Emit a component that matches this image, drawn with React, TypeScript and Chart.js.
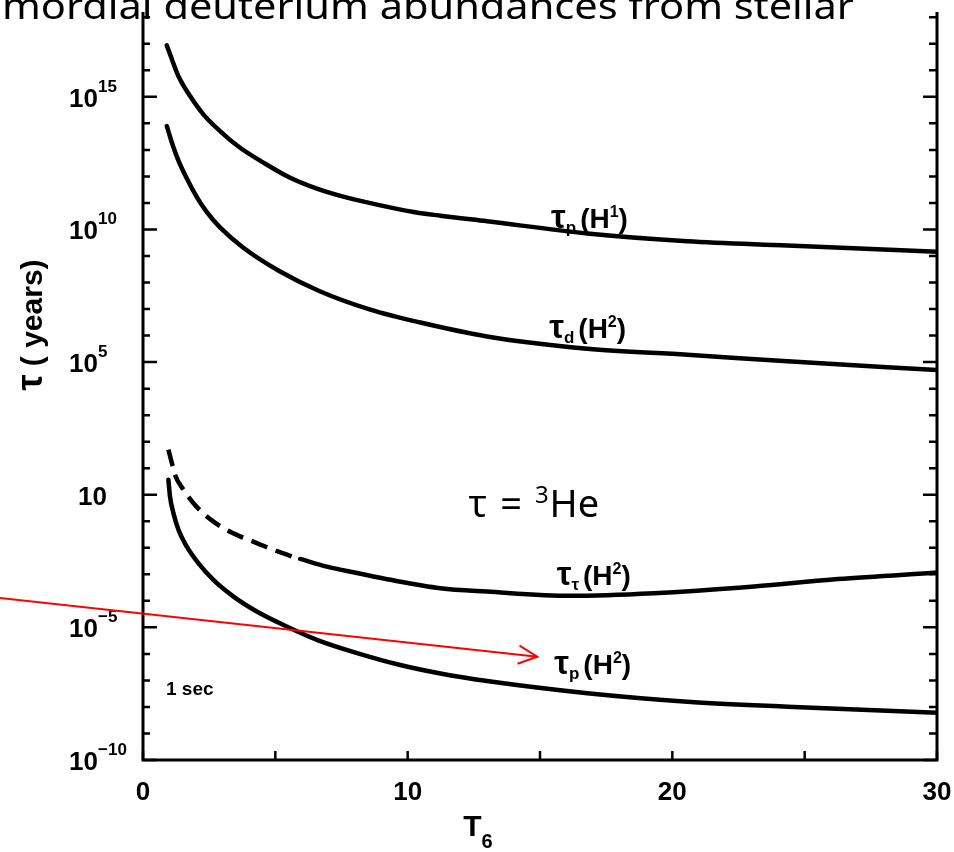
import React, { useEffect, useRef } from "react";
import { Chart, registerables } from "chart.js";

Chart.register(...registerables);

const W = 954;
const H = 852;

// ---- data (T6 in units of 10^6 K, tau in years) ----
const tpH1X = [0.9, 1.09, 1.34, 1.78, 2.28, 2.91, 3.67, 4.55, 5.56, 6.57, 7.71, 8.97, 10.23, 11.24, 13.0, 16.79, 20.57, 24.35, 30];
const tpH1Y = [8.7e16, 2.63e16, 6.0e15, 1.07e15, 2.19e14, 5.13e13, 1.2e13, 3.31e12, 8.9e11, 3.47e11, 1.58e11, 8.1e10, 4.57e10, 3.31e10, 2.04e10, 7.1e9, 3.6e9, 2.5e9, 1.45e9];

const tdH2X = [0.9, 1.09, 1.32, 1.67, 2.04, 2.42, 2.91, 3.78, 5.18, 6.7, 8.59, 10.48, 13.0, 16.79, 20.57, 24.35, 30];
const tdH2Y = [7.9e13, 1.9e13, 4.4e12, 7.8e11, 1.62e11, 4.4e10, 1.2e10, 2.1e9, 2.6e8, 4.6e7, 9.5e6, 3.1e6, 9.3e5, 3.2e5, 1.9e5, 1.07e5, 5.0e4];

const tTH2DashX = [0.96, 1.09, 1.21, 1.53, 1.9, 2.41, 3.04, 3.67, 4.3, 4.93, 5.56, 5.94];
const tTH2DashY = [50, 15.8, 5.6, 1.55, 0.49, 0.151, 0.055, 0.0269, 0.0151, 8.3e-3, 5.0e-3, 3.8e-3];
const tTH2X = [5.94, 6.95, 8.09, 9.35, 11.24, 13.0, 16.16, 19.31, 23.09, 26.25, 30];
const tTH2Y = [3.8e-3, 1.95e-3, 1.12e-3, 6.2e-4, 3.0e-4, 2.24e-4, 1.55e-4, 1.95e-4, 3.5e-4, 6.6e-4, 1.17e-3];

const tpH2X = [0.96, 1.02, 1.15, 1.34, 1.65, 2.09, 2.66, 3.42, 4.3, 5.31, 6.57, 8.09, 9.72, 11.24, 13.0, 16.79, 20.57, 24.35, 30];
const tpH2Y = [3.68, 0.863, 0.203, 0.0479, 0.0112, 2.63e-3, 6.17e-4, 1.45e-4, 3.98e-5, 1.23e-5, 3.39e-6, 1.07e-6, 3.8e-7, 1.82e-7, 9.5e-8, 3.3e-8, 1.58e-8, 1.02e-8, 6.0e-9];

// ---- axis ticks / labels ----
const xMin = 0;
const xMax = 30;
const yMin = 1e-10;
const yMax = 1.58e18;
const xMinorTicks = [0, 5, 10, 15, 20, 25, 30];
const xTickValues = [0, 10, 20, 30];
const xTickLabels = ["0", "10", "20", "30"];
const yDecadeExps = [-10, -9, -8, -7, -6, -5, -4, -3, -2, -1, 0, 1, 2, 3, 4, 5, 6, 7, 8, 9, 10, 11, 12, 13, 14, 15, 16, 17, 18];
const yTickValues = [1e-10, 1e-5, 1, 1e5, 1e10, 1e15];
const yTickBases = ["10", "10", "10", "10", "10", "10"];
const yTickExps = ["\u221210", "\u22125", "", "5", "10", "15"];

const slideTitle = "mordial deuterium abundances from stellar";

// annotation anchors in data units
const lblTpH1 = { x: 16.87, y: 2.8e10 };
const lblTdH2 = { x: 16.8, y: 2.0e6 };
const lblTtH2 = { x: 17.03, y: 9.5e-4 };
const lblTpH2 = { x: 16.99, y: 4.2e-7 };
const lblHe3 = { x: 12.3, y: 0.148 };
const lblSec = { x: 0.87, y: 5.2e-8 };
const arrowFrom = { x: -5.41, y: 1.29e-4 };
const arrowTo = { x: 14.9, y: 7.8e-7 };

const HAND = '"Liberation Sans", Arial, sans-serif';
const SLIDE = '"Noto Sans", "Open Sans", sans-serif';

type Seg = { t: string; size: number; dy?: number; gap?: number; weight?: string; family?: string };

function drawRich(ctx: CanvasRenderingContext2D, segs: Seg[], x: number, y: number, align: "left" | "center" | "right") {
  const widths = segs.map((s) => {
    ctx.font = `${s.weight ?? "bold"} ${s.size}px ${s.family ?? HAND}`;
    return ctx.measureText(s.t).width + (s.gap ?? 0);
  });
  const total = widths.reduce((a, b) => a + b, 0);
  let cx = align === "center" ? x - total / 2 : align === "right" ? x - total : x;
  ctx.textAlign = "left";
  ctx.textBaseline = "alphabetic";
  segs.forEach((s, i) => {
    ctx.font = `${s.weight ?? "bold"} ${s.size}px ${s.family ?? HAND}`;
    ctx.fillText(s.t, cx, y + (s.dy ?? 0));
    cx += widths[i];
  });
}

const decor = {
  id: "decor",
  afterDraw(chart: any) {
    const ctx: CanvasRenderingContext2D = chart.ctx;
    const xs = chart.scales.x;
    const ys = chart.scales.y;
    const { left, right, top, bottom } = chart.chartArea;
    const px = (v: number) => xs.getPixelForValue(v);
    const py = (v: number) => ys.getPixelForValue(v);
    ctx.save();
    ctx.fillStyle = "#000";
    ctx.strokeStyle = "#000";
    ctx.lineCap = "butt";

    // axes frame (left, bottom, right)
    ctx.lineWidth = 3;
    ctx.beginPath();
    ctx.moveTo(left, top);
    ctx.lineTo(left, bottom);
    ctx.lineTo(right, bottom);
    ctx.lineTo(right, top);
    ctx.stroke();

    // y ticks (inward)
    ctx.lineWidth = 2.5;
    yDecadeExps.forEach((e) => {
      const y = py(Math.pow(10, e));
      const major = e % 5 === 0;
      const lenL = major ? 14 : 7;
      const lenR = major ? 14 : 8;
      ctx.beginPath();
      ctx.moveTo(left, y);
      ctx.lineTo(left + lenL, y);
      ctx.moveTo(right, y);
      ctx.lineTo(right - lenR, y);
      ctx.stroke();
    });
    // x ticks (inward)
    xMinorTicks.forEach((v) => {
      const x = px(v);
      ctx.beginPath();
      ctx.moveTo(x, bottom);
      ctx.lineTo(x, bottom - 9);
      ctx.stroke();
    });

    // y tick labels
    yTickValues.forEach((v, i) => {
      const y = py(v);
      if (yTickExps[i] === "") {
        drawRich(ctx, [{ t: yTickBases[i], size: 26 }], 107, y + 10, "right");
      } else {
        drawRich(ctx, [{ t: yTickBases[i], size: 26 }], 98, y + 10, "right");
        drawRich(ctx, [{ t: yTickExps[i], size: 17 }], 98, y - 5, "left");
      }
    });
    // x tick labels
    xTickValues.forEach((v, i) => {
      drawRich(ctx, [{ t: xTickLabels[i], size: 26 }], px(v), 800, "center");
    });

    // axis titles
    drawRich(ctx, [{ t: "T", size: 30 }, { t: "6", size: 20, dy: 12 }], 478, 836, "center");
    ctx.save();
    ctx.translate(42, 325);
    ctx.rotate(-Math.PI / 2);
    drawRich(ctx, [{ t: "\u03c4", size: 36 }, { t: " ( years)", size: 30 }], 0, 0, "center");
    ctx.restore();

    // curve labels
    const curveLabel = (pos: { x: number; y: number }, sub: string, sup: string) => {
      drawRich(
        ctx,
        [
          { t: "\u03c4", size: 33 },
          { t: sub, size: 17, dy: 5, gap: 4 },
          { t: "(H", size: 28 },
          { t: sup, size: 16, dy: -11 },
          { t: ")", size: 28 },
        ],
        px(pos.x),
        py(pos.y) + 10,
        "center"
      );
    };
    curveLabel(lblTpH1, "p", "1");
    curveLabel(lblTdH2, "d", "2");
    curveLabel(lblTtH2, "\u03c4", "2");
    curveLabel(lblTpH2, "p", "2");

    drawRich(ctx, [{ t: "1 sec", size: 19 }], px(lblSec.x), py(lblSec.y) + 7, "left");

    // slide annotation
    drawRich(
      ctx,
      [
        { t: "\u03c4", size: 38, weight: "normal", family: SLIDE, gap: 13 },
        { t: "=", size: 38, weight: "normal", family: SLIDE, gap: 13 },
        { t: "3", size: 24, dy: -14, weight: "normal", family: SLIDE, gap: 1 },
        { t: "He", size: 38, weight: "normal", family: SLIDE },
      ],
      px(lblHe3.x),
      py(lblHe3.y),
      "left"
    );

    // red arrow
    const x0 = px(arrowFrom.x), y0 = py(arrowFrom.y);
    const x1 = px(arrowTo.x), y1 = py(arrowTo.y);
    ctx.strokeStyle = "#ff0000";
    ctx.lineWidth = 2;
    ctx.beginPath();
    ctx.moveTo(x0, y0);
    ctx.lineTo(x1, y1);
    const ang = Math.atan2(y1 - y0, x1 - x0);
    const hl = 21;
    ctx.moveTo(x1 + hl * Math.cos(ang + Math.PI - 0.45), y1 + hl * Math.sin(ang + Math.PI - 0.45));
    ctx.lineTo(x1, y1);
    ctx.lineTo(x1 + hl * Math.cos(ang + Math.PI + 0.45), y1 + hl * Math.sin(ang + Math.PI + 0.45));
    ctx.stroke();

    // slide title (cut at the top of the page)
    ctx.fillStyle = "#000";
    ctx.font = `normal 37px ${SLIDE}`;
    const w = ctx.measureText(slideTitle).width;
    ctx.save();
    ctx.translate(2, 19);
    ctx.scale(852 / w, 1);
    ctx.textAlign = "left";
    ctx.textBaseline = "alphabetic";
    ctx.fillText(slideTitle, 0, 0);
    ctx.restore();

    ctx.restore();
  },
};

function series(xs: number[], ys: number[]) {
  return xs.map((x, i) => ({ x, y: ys[i] }));
}

export default function App() {
  const ref = useRef<HTMLCanvasElement>(null);
  useEffect(() => {
    const canvas = ref.current;
    if (!canvas) return;
    const base = {
      borderColor: "#000",
      borderWidth: 4.5,
      pointRadius: 0,
      fill: false,
      cubicInterpolationMode: "monotone" as const,
      borderCapStyle: "round" as const,
    };
    const chart = new Chart(canvas, {
      type: "line",
      data: {
        datasets: [
          { ...base, label: "tau_p(H1)", data: series(tpH1X, tpH1Y) },
          { ...base, label: "tau_d(H2)", data: series(tdH2X, tdH2Y) },
          { ...base, label: "tau_T(H2) dashed", data: series(tTH2DashX, tTH2DashY), borderDash: [17, 9], borderCapStyle: "butt" as const },
          { ...base, label: "tau_T(H2)", data: series(tTH2X, tTH2Y) },
          { ...base, label: "tau_p(H2)", data: series(tpH2X, tpH2Y) },
        ],
      },
      options: {
        responsive: false,
        animation: false,
        devicePixelRatio: 1,
        layout: { padding: { left: 143, right: 17, top: 12, bottom: 92 } },
        plugins: { legend: { display: false }, tooltip: { enabled: false }, title: { display: false } },
        scales: {
          x: { type: "linear", min: xMin, max: xMax, display: false },
          y: { type: "logarithmic", min: yMin, max: yMax, display: false },
        },
        events: [],
      },
      plugins: [decor],
    });
    return () => chart.destroy();
  }, []);
  return (
    <div style={{ position: "fixed", left: 0, top: 0, width: W, height: H, background: "#fff" }}>
      <canvas ref={ref} width={W} height={H} style={{ width: W, height: H, display: "block" }} />
    </div>
  );
}
